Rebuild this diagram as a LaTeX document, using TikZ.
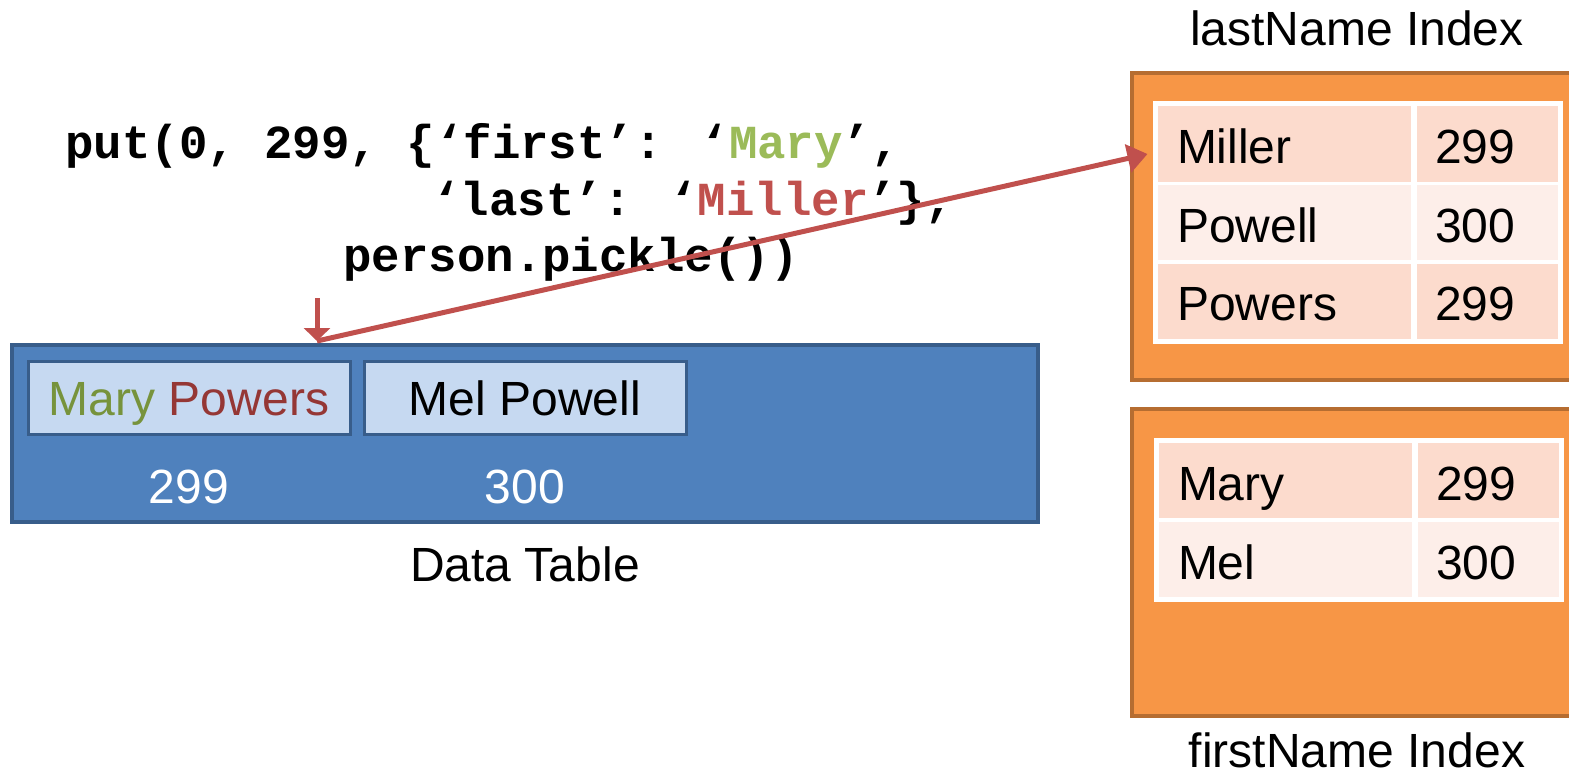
\documentclass[tikz,border=0pt]{standalone}
\usepackage{fontspec}
\setmainfont{Liberation Sans}
\newfontfamily\codefont{Liberation Mono}
\usetikzlibrary{arrows.meta}
\definecolor{tableblue}{HTML}{4F81BD}
\definecolor{blueborder}{HTML}{385D8A}
\definecolor{recordblue}{HTML}{C6D9F1}
\definecolor{indexorange}{HTML}{F79646}
\definecolor{orangeborder}{HTML}{B66D31}
\definecolor{rowdark}{HTML}{FCDBCD}
\definecolor{rowlight}{HTML}{FDEEE9}
\definecolor{arrowred}{HTML}{C0504D}
\definecolor{codegreen}{HTML}{9BBB59}
\definecolor{namegreen}{HTML}{77933C}
\definecolor{namered}{HTML}{953735}

\begin{document}
\begin{tikzpicture}[x=0.5pt, y=-0.5pt,
    every node/.style={font=\fontsize{24}{28}\selectfont, inner sep=0pt},
    tablebox/.style={draw=blueborder, fill=tableblue, line width=2pt, minimum width=513pt, minimum height=88.5pt},
    recordbox/.style={draw=blueborder, fill=recordblue, line width=1.5pt, minimum width=161pt, minimum height=36.5pt, text height=17.5pt, text depth=0pt},
    indexbox/.style={draw=orangeborder, fill=indexorange, line width=2pt, minimum width=224pt, minimum height=153.5pt},
    namecell/.style={draw=white, line width=1.5pt, minimum height=39.25pt, text width=107pt, inner xsep=10.5pt, align=left, text height=19.5pt, text depth=0pt},
    numcell/.style={namecell, text width=52pt, inner xsep=10pt},
    codeline/.style={font=\codefont\bfseries\fontsize{23.7}{28}\selectfont, anchor=base west},
    redarrow/.style={draw=arrowred, line width=2.5pt, -{Triangle[length=10pt,width=14pt]}}]
  \useasboundingbox (0,0) rectangle (1569,776);

  % Code
  \node[codeline] (code-1) at (65,158) {put(0, 299, \{‘first’: ‘\textcolor{codegreen}{Mary}’,};
  \node[codeline] (code-2) at (432,215) {‘last’: ‘\textcolor{arrowred}{Miller}’\},};
  \node[codeline] (code-3) at (343,271) {person.pickle())};

  % Data table
  \node[tablebox] (datatable) at (525,433.5) {};
  \node[recordbox] (rec-mary) at (189,397.5) {\textcolor{namegreen}{Mary} \textcolor{namered}{Powers}};
  \node[recordbox] (rec-mel) at (525,397.5) {Mel Powell};
  \node[anchor=base, text=white] (key-mary) at (189,503) {299};
  \node[anchor=base, text=white] (key-mel) at (525,503) {300};
  \node[anchor=base] (datatitle) at (525,581) {Data Table};

  % lastName index
  \node[anchor=base] (lasttitle) at (1357,46) {lastName Index};
  \node[indexbox] (lastbox) at (1356,226.5) {};
  \foreach \nm/\num/\clr [count=\i] in {Miller/299/rowdark, Powell/300/rowlight, Powers/299/rowdark}{
    \node[namecell, fill=\clr] (last-name-\i) at (1284,65.3+\i*78.7) {\nm};
    \node[numcell, fill=\clr, anchor=west] (last-num-\i) at (last-name-\i.east) {\num};
  }
  \draw[white, line width=2pt] (last-name-1.north west) rectangle (last-num-3.south east);

  % firstName index
  \node[indexbox] (firstbox) at (1356,562.5) {};
  \foreach \nm/\num/\clr [count=\i] in {Mary/299/rowdark, Mel/300/rowlight}{
    \node[namecell, fill=\clr] (first-name-\i) at (1285,401.5+\i*79) {\nm};
    \node[numcell, fill=\clr, anchor=west] (first-num-\i) at (first-name-\i.east) {\num};
  }
  \draw[white, line width=2pt] (first-name-1.north west) rectangle (first-num-2.south east);
  \node[anchor=base] (firsttitle) at (1357,767) {firstName Index};

  % Arrows
  \coordinate (drop) at (317,298);
  \draw[redarrow, -{Triangle[length=6.5pt,width=13pt]}] (drop) -- ([yshift=1pt]drop |- datatable.north);
  \draw[redarrow] ([yshift=1pt]drop |- datatable.north) -- ([xshift=-3.5pt,yshift=-5pt]last-name-1.west);
\end{tikzpicture}
\end{document}
